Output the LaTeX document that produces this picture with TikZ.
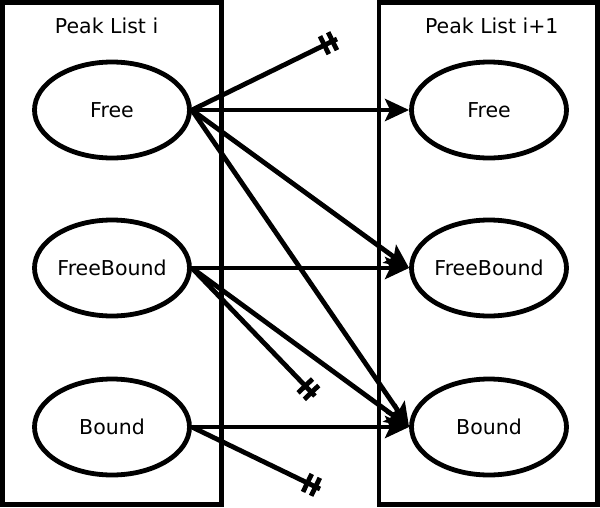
\documentclass[tikz,border=0pt]{standalone}
\usepackage{fontspec}
\setmainfont{DejaVu Sans}
\usetikzlibrary{shapes.geometric,arrows.meta,calc}
\tikzset{
  lw/.style={line width=4.8pt},
  listbox/.style={lw, draw},
  state/.style={ellipse, draw, lw, minimum width=155pt, minimum height=96pt, inner sep=0pt, font=\fontsize{20.5}{24}\selectfont},
  title/.style={font=\fontsize{20.5}{24}\selectfont, inner sep=0pt},
  trans/.style={lw, -{Stealth[length=24pt,width=22pt,inset=5pt]}},
  cutline/.style={lw},
}
\newcommand{\cutmark}[2]{%
  \draw[cutline] (#1) -- (#2);
  \draw[cutline] ($(#2)!5pt!(#1)$) coordinate (m1)
    ($(m1)!10pt!90:(#2)$) -- ($(m1)!10pt!-90:(#2)$);
  \draw[cutline] ($(#2)!14pt!(#1)$) coordinate (m2)
    ($(m2)!10pt!90:(#2)$) -- ($(m2)!10pt!-90:(#2)$);
}
\begin{document}
\begin{tikzpicture}[x=1pt,y=-1pt]
\useasboundingbox (0,0) rectangle (600,507);
\draw[listbox] (2.5,2.5) rectangle (221.5,504.5);
\draw[listbox] (379,2.5) rectangle (597.5,504.5);
\node[title] (t1) at (106.6,26) {Peak List i};
\node[title] (t2) at (491.8,26) {Peak List i+1};
\node[state] (lf) at (112,110) {Free};
\node[state] (lfb) at (112,268) {FreeBound};
\node[state] (lb) at (112,427) {Bound};
\node[state] (rf) at (489,110) {Free};
\node[state] (rfb) at (489,268) {FreeBound};
\node[state] (rb) at (489,427) {Bound};
\coordinate (c1) at (337,39);
\coordinate (c2) at (315,396);
\coordinate (c3) at (320,489);
\cutmark{lf.east}{c1}
\cutmark{lfb.east}{c2}
\cutmark{lb.east}{c3}
\draw[trans] (lf.east) -- (rf.west);
\draw[trans] (lf.east) -- (rfb.west);
\draw[trans] (lf.east) -- (rb.west);
\draw[trans] (lfb.east) -- (rfb.west);
\draw[trans] (lfb.east) -- (rb.west);
\draw[trans] (lb.east) -- (rb.west);
\end{tikzpicture}
\end{document}
